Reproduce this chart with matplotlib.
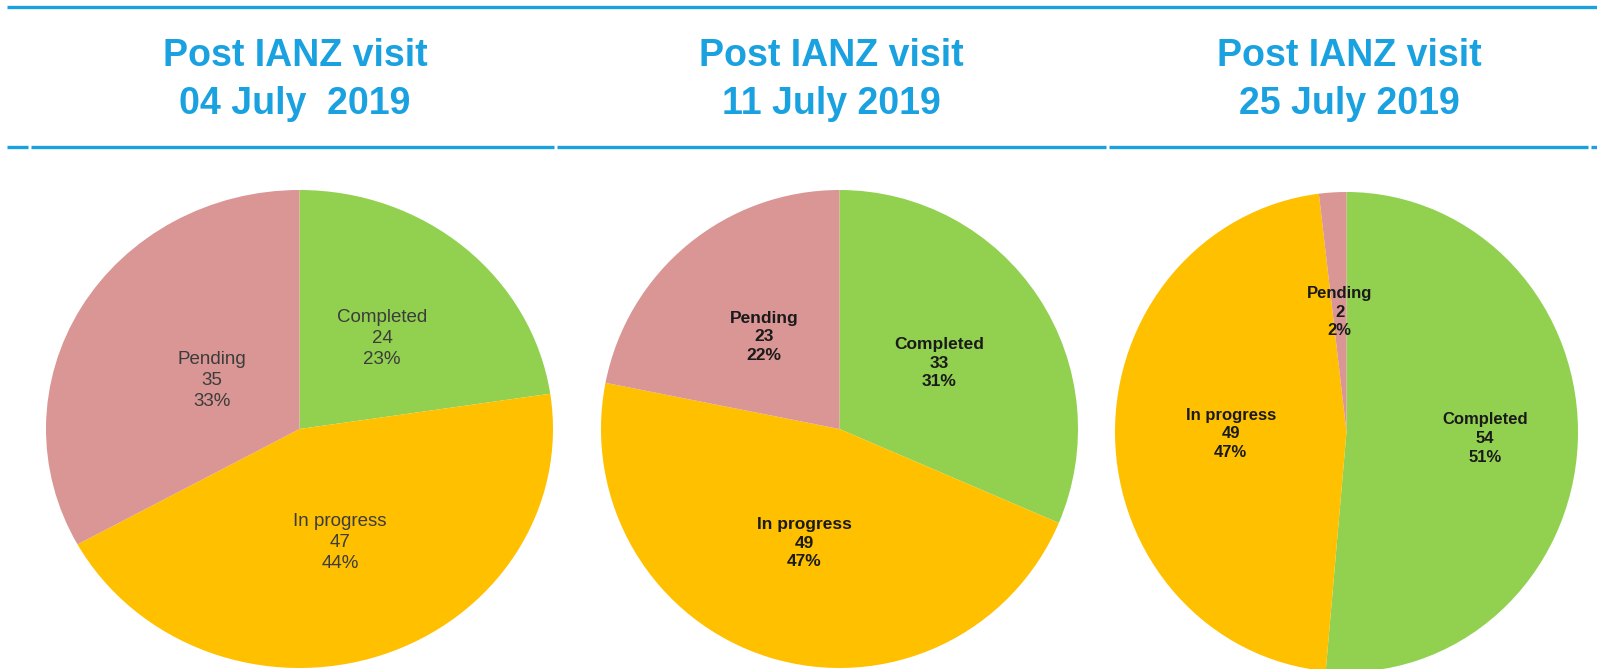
import matplotlib
matplotlib.use('Agg')
import matplotlib.pyplot as plt

W, H = 1597, 669

categories = ['Completed', 'In progress', 'Pending']
titles = ['Post IANZ visit\n04 July  2019',
          'Post IANZ visit\n11 July 2019',
          'Post IANZ visit\n25 July 2019']
counts_04jul = [24, 47, 35]
counts_11jul = [33, 49, 23]
counts_25jul = [54, 49, 2]

colors = ['#92D050', '#FFC000', '#D99694']
blue = '#1AA1E0'

plt.rcParams.update({
    'font.family': ['Liberation Sans', 'DejaVu Sans'],
})

fig = plt.figure(figsize=(W / 100, H / 100), dpi=100)

# overlay in pixel coords for rules and titles
bg = fig.add_axes([0, 0, 1, 1])
bg.set_xlim(0, W)
bg.set_ylim(H, 0)
bg.axis('off')
bg.plot([7, W], [7, 7], color=blue, lw=2.4, solid_capstyle='butt')
for x0, x1 in [(7, 28), (31, 554), (557, 1106), (1109, 1588), (1591, W)]:
    bg.plot([x0, x1], [147, 147], color=blue, lw=2.4, solid_capstyle='butt')

title_x = [295, 831, 1349]
for tx, t in zip(title_x, titles):
    bg.text(tx, 80, t, ha='center', va='center', fontsize=27,
            fontweight='bold', color=blue, linespacing=1.45)

# pie boxes in pixels: left, right, top, bottom
boxes = [(46, 553, 190, 668), (601, 1078, 190, 668), (1115, 1578, 192, 672)]
styles = [dict(color='#3C3C3C', fontweight='normal', fontsize=13.5),
          dict(color='#1A1A1A', fontweight='bold', fontsize=12.5),
          dict(color='#1A1A1A', fontweight='bold', fontsize=12)]
# radial position of each label (fraction of radius)
label_r = [[0.5, 0.5, 0.4], [0.5, 0.5, 0.5], [0.6, 0.5, 0.5]]

for counts, (l, r, t, b), st, lr in zip(
        [counts_04jul, counts_11jul, counts_25jul], boxes, styles, label_r):
    ax = fig.add_axes([l / W, 1 - b / H, (r - l) / W, (b - t) / H])
    total = sum(counts)
    labels = ['{}\n{}\n{:.0f}%'.format(c, v, 100 * v / total)
              for c, v in zip(categories, counts)]
    wedges, texts = ax.pie(counts, colors=colors, startangle=90,
                           counterclock=False, labels=labels,
                           labeldistance=0.5, radius=1,
                           textprops=dict(linespacing=1.3, **st))
    for txt, f in zip(texts, lr):
        x, y = txt.get_position()
        txt.set_position((x * f / 0.5, y * f / 0.5))
        txt.set_ha('center')
        txt.set_va('center')
    ax.set_aspect('auto')
    ax.set_xlim(-1, 1)
    ax.set_ylim(-1, 1)
    ax.axis('off')

fig.savefig('out.png', dpi=100)
